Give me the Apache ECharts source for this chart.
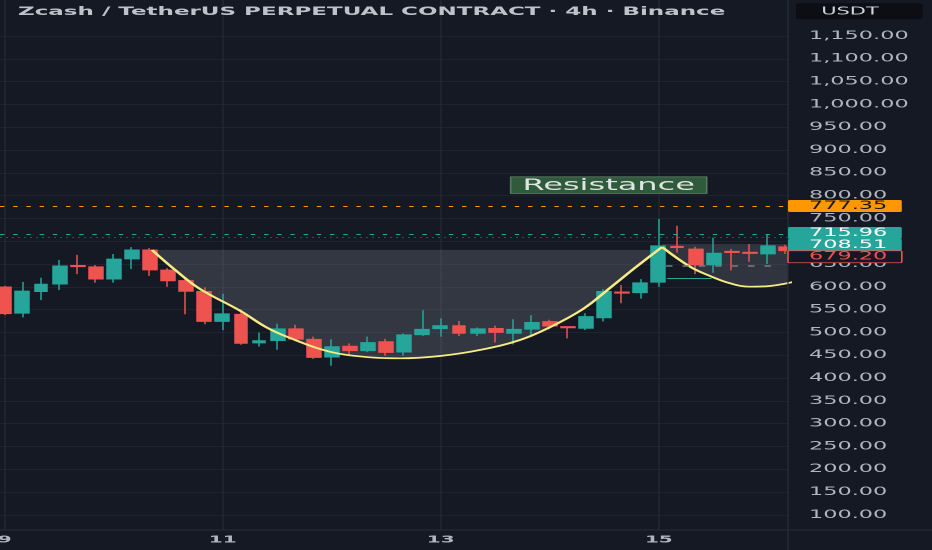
<!DOCTYPE html>
<html><head><meta charset="utf-8">
<script src="https://cdn.jsdelivr.net/npm/echarts@6/dist/echarts.min.js"></script>
<style>
html,body{margin:0;padding:0;background:#151924;overflow:hidden;width:932px;height:550px;}
#c{width:466px;height:550px;transform:scaleX(2);transform-origin:0 0;}
</style></head><body><div id="c"></div>
<script>
// ---- data ----
const titleText = 'Zcash / TetherUS PERPETUAL CONTRACT · 4h · Binance';
const unitText = 'USDT';
const opens  = [600,542,589.5,606,647,644,617,661,681,637,614,590,524,540,477,482,508,485,446,470,460,480,457,495,508,515,498,509,498,507,524,513,509,532,589,587,610,689,683,648,678,676,672,688];
const closes = [541,591,606,646,644,617,661,681,637,613,590,524,541,476,482,508,485,445,469,460,478,456,495,507,515,498,508,500,507,522,514,510,535,590,586,609,690,686,648,674,675,673,690,679.2];
const lows   = [538,533,571,593,628,609,609,639,624,600,540,518,505,473,469,462,481,442,427,449,457,449,449,492,491,492,492,478,474,490,507,487,505,524,564,574,600,675,628,631,636,655,650,672];
const highs  = [602,611,620,659,670,648,672,687,685,641,617,599,585,551,500,519,517,491,485,476,491,486,498,549,531,525,511,515,529,538,528,514,542,595,604,617,749,734,688,708,683,694,716,692];
const xTickIdx = [0, 12, 24, 36];
const xTickLabels = ['9', '11', '13', '15'];
const yTicks = [100,150,200,250,300,350,400,450,500,550,600,650,700,750,800,850,900,950,1000,1050,1100,1150];
const cupX = [8.11,9.43,10.75,12.95,14.44,15.70,17.90,20.10,21.76,23.96,26.16,28.36,30.01,31.83,33.31,34.68,36.18];
const cupY = [680.8,635.4,595.3,547.7,510.4,487.9,457.8,445.5,443.3,448.4,461.6,483.5,511.5,551.5,597.5,641.4,687.4];
const handleX = [36.18,37.72,38.82,39.92,41.02,42.12,43.05,43.6];
const handleY = [687.4,644.2,623.8,607.8,600.3,601.9,607.8,613];
const cupTop = 681;
const handleTop = 694;
const priceLevels = [777.35, 715.96, 708.51, 679.20];
const resistanceText = 'Resistance';
const resistanceAt = [33.24, 823];
const handleBoxLow = 619, handleBoxX = [36.45, 38.9];
const handleMarkLevel = 646.4, handleMarkX = [36.4, 42.6];

// ---- chart ----
const UP = '#26a69a', DOWN = '#ef5350', BG = '#151924';
const chart = echarts.init(document.getElementById('c'), null, {devicePixelRatio: 2});
const candleData = opens.map((o, i) => [i, o, closes[i], lows[i], highs[i]]);
const pts = (xs, ys) => xs.map((x, i) => [x, ys[i]]);
const fmtPrice = v => Number(v).toLocaleString('en-US', {minimumFractionDigits: 2, maximumFractionDigits: 2});
const axisFont = 'DejaVu Sans';
const xView = [-0.259, 43.11];   // visible index range of the plot

const option = {
  animation: false,
  backgroundColor: BG,
  title: {
    text: titleText, left: 9, top: 6, padding: 0,
    textStyle: {color: '#bfc2ca', fontFamily: axisFont, fontSize: 11.5, fontWeight: 'bold'}
  },
  grid: {left: 0, right: 72, top: 0, bottom: 20, outerBoundsMode: 'none', containLabel: false},
  xAxis: {
    type: 'value', min: xView[0], max: xView[1],
    axisLine: {show: false},
    axisTick: {show: false, customValues: xTickIdx},
    axisLabel: {
      customValues: xTickIdx, margin: 5, color: '#b2b5be', fontFamily: axisFont, fontSize: 10, fontWeight: 'bold',
      formatter: v => xTickLabels[xTickIdx.indexOf(Math.round(v))]
    },
    splitLine: {show: true, lineStyle: {color: '#262a36', width: 0.6}}
  },
  yAxis: {
    type: 'value', position: 'right', min: 66.9, max: 1228.9, scale: true,
    axisLine: {show: false},
    axisTick: {show: false, customValues: yTicks},
    axisLabel: {customValues: yTicks, margin: 10.5, color: '#b2b5be', fontFamily: axisFont, fontSize: 11.2, formatter: fmtPrice},
    splitLine: {show: true, lineStyle: {color: '#1f2330', width: 1}}
  },
  series: [
    {type: 'line', data: pts(cupX, cupY), smooth: 0.4, symbol: 'none', z: 1,
     lineStyle: {width: 0, opacity: 0}, areaStyle: {origin: cupTop, color: 'rgba(125,128,140,0.42)'}},
    {type: 'line', data: pts(handleX, handleY), smooth: 0.4, symbol: 'none', z: 1,
     lineStyle: {width: 0, opacity: 0}, areaStyle: {origin: handleTop, color: 'rgba(125,128,140,0.38)'}},
    {type: 'candlestick', data: candleData, encode: {x: 0, y: [1, 2, 3, 4]}, barWidth: 7.4, z: 2,
     itemStyle: {color: UP, color0: DOWN, borderColor: UP, borderColor0: DOWN, borderWidth: 0.75},
     markLine: {
       silent: true, symbol: ['none', 'none'], label: {show: false}, animation: false,
       data: [
         {yAxis: priceLevels[0], lineStyle: {color: '#ff9800', type: [2.2, 4.4], width: 1}},
         {yAxis: priceLevels[1], lineStyle: {color: '#26a69a', type: [2.2, 4.4], width: 1}},
         {yAxis: priceLevels[2], lineStyle: {color: 'rgba(38,166,154,0.45)', type: [1, 2], width: 1}},
         [{coord: [handleBoxX[0], handleBoxLow], lineStyle: {color: '#26a69a', type: 'solid', width: 1}},
          {coord: [handleBoxX[1], handleBoxLow]}],
         [{coord: [handleMarkX[0], handleMarkLevel], lineStyle: {color: '#787b86', type: [3.2, 5], width: 1.5}},
          {coord: [handleMarkX[1], handleMarkLevel]}]
       ]
     }},
    {type: 'line', data: pts(cupX, cupY), smooth: 0.4, symbol: 'none', z: 3,
     lineStyle: {color: '#f7eb83', width: 1.7}},
    {type: 'line', data: pts(handleX, handleY), smooth: 0.4, symbol: 'none', z: 3,
     lineStyle: {color: '#f7eb83', width: 1.7}}
  ]
};
chart.setOption(option);

// ---- overlays placed through the chart's own scales ----
const yPix = v => chart.convertToPixel({yAxisIndex: 0}, v);
const gridRight = 394;
const labelStyles = [
  {fill: '#ff9800', stroke: null, text: '#131722', nudge: 0},
  {fill: '#26a69a', stroke: null, text: '#ffffff', nudge: -1},
  {fill: '#26a69a', stroke: null, text: '#ffffff', nudge: 7.5},
  {fill: BG, stroke: '#ef5350', text: '#ef5350', nudge: 6}
];
const graphics = [
  {type: 'line', shape: {x1: gridRight, y1: 0, x2: gridRight, y2: 550}, style: {stroke: '#2a2e39', lineWidth: 0.6}, z: 50},
  {type: 'line', shape: {x1: 0, y1: 530, x2: 466, y2: 530}, style: {stroke: '#2a2e39', lineWidth: 1}, z: 50},
  {type: 'rect', shape: {x: 398, y: 3.3, width: 63.3, height: 16, r: 2}, style: {fill: '#0c0e14'}, z: 50},
  {type: 'text', x: 425, y: 11.7, style: {text: unitText, fill: '#d1d4dc', font: '10.5px "DejaVu Sans"', align: 'center', verticalAlign: 'middle'}, z: 51}
];
priceLevels.forEach((v, i) => {
  const s = labelStyles[i];
  const cy = yPix(v) + s.nudge;
  graphics.push({type: 'rect', shape: {x: gridRight, y: cy - 6, width: 56.9, height: 12, r: 1},
    style: {fill: s.fill, stroke: s.stroke, lineWidth: s.stroke ? 0.8 : 0}, z: 60});
  graphics.push({type: 'text', x: 404.5, y: cy, style: {text: fmtPrice(v), fill: s.text, font: '11.2px "DejaVu Sans"', align: 'left', verticalAlign: 'middle'}, z: 61});
});
const rp = chart.convertToPixel({gridIndex: 0}, resistanceAt);
graphics.push({type: 'rect', shape: {x: rp[0] - 49, y: rp[1] - 8.3, width: 98, height: 16.6},
  style: {fill: '#2f5b3c', stroke: '#5b7864', lineWidth: 0.8}, z: 40});
graphics.push({type: 'text', x: rp[0], y: rp[1] + 0.5, style: {text: resistanceText, fill: '#dfe6e1', font: '16px "DejaVu Sans"', align: 'center', verticalAlign: 'middle'}, z: 41});
chart.setOption({graphic: graphics});
</script></body></html>
